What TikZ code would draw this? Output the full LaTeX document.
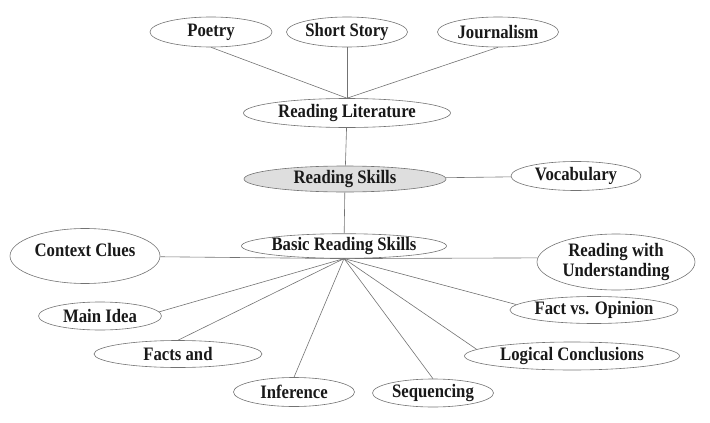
\documentclass[tikz,border=0pt]{standalone}
\usepackage{fontspec}
\setmainfont{Liberation Serif}[FakeStretch=0.88]
\usetikzlibrary{shapes.geometric}
\tikzset{
  bub/.style={ellipse, draw=black!55, line width=0.6pt, inner sep=0pt,
    font=\fontsize{19}{20}\selectfont\bfseries, text=black!90, align=center},
  link/.style={draw=black!55, line width=0.6pt}
}
\begin{document}
\begin{tikzpicture}[x=1pt,y=-1pt]
\useasboundingbox (0,0) rectangle (710,423);
\node[bub, minimum width=122pt, minimum height=30pt] (poetry) at (211,32) {Poetry};
\node[bub, minimum width=121pt, minimum height=30pt] (story) at (347,32) {Short Story};
\node[bub, minimum width=121pt, minimum height=30pt] (journ) at (498,32) {Journalism};
\node[bub, minimum width=207pt, minimum height=29pt] (lit) at (347,113) {Reading Literature};
\node[bub, minimum width=202pt, minimum height=26pt, fill=black!13] (rs) at (345,179) {Reading Skills};
\node[bub, minimum width=130pt, minimum height=29pt] (voc) at (576,176) {Vocabulary};
\node[bub, minimum width=205pt, minimum height=23pt] (brs) at (344,246) {Basic Reading Skills};
\node[bub, minimum width=150pt, minimum height=55pt] (cc) at (85,256) {\raisebox{12pt}{Context Clues}};
\node[bub, minimum width=158pt, minimum height=56pt] (rwu) at (616,262) {Reading with\\Understanding};
\node[bub, minimum width=123pt, minimum height=28pt] (mi) at (100,316) {Main Idea};
\node[bub, minimum width=168pt, minimum height=27pt] (fa) at (178,354) {Facts and};
\node[bub, minimum width=121pt, minimum height=29pt] (inf) at (294,392) {Inference};
\node[bub, minimum width=121pt, minimum height=28pt] (seq) at (433,393) {Sequencing};
\node[bub, minimum width=168pt, minimum height=27pt] (fvo) at (594,310) {Fact vs. Opinion};
\node[bub, minimum width=215pt, minimum height=28pt] (lc) at (572,356) {Logical Conclusions};
\coordinate (top) at (lit.north);
\coordinate (hub) at (brs.south);
\draw[link] (poetry.south) -- (top);
\draw[link] (story.south) -- (top);
\draw[link] (journ.south) -- (top);
\draw[link] (lit) -- (rs);
\draw[link] (rs) -- (brs);
\draw[link] (rs) -- (voc);
\draw[link] (hub) -- (cc);
\draw[link] (hub) -- (rwu.177);
\draw[link] (hub) -- (mi.4);
\draw[link] (hub) -- (fa.north);
\draw[link] (hub) -- (inf.north);
\draw[link] (hub) -- (seq.north);
\draw[link] (hub) -- (fvo.176);
\draw[link] (hub) -- (lc.176);
\end{tikzpicture}
\end{document}
